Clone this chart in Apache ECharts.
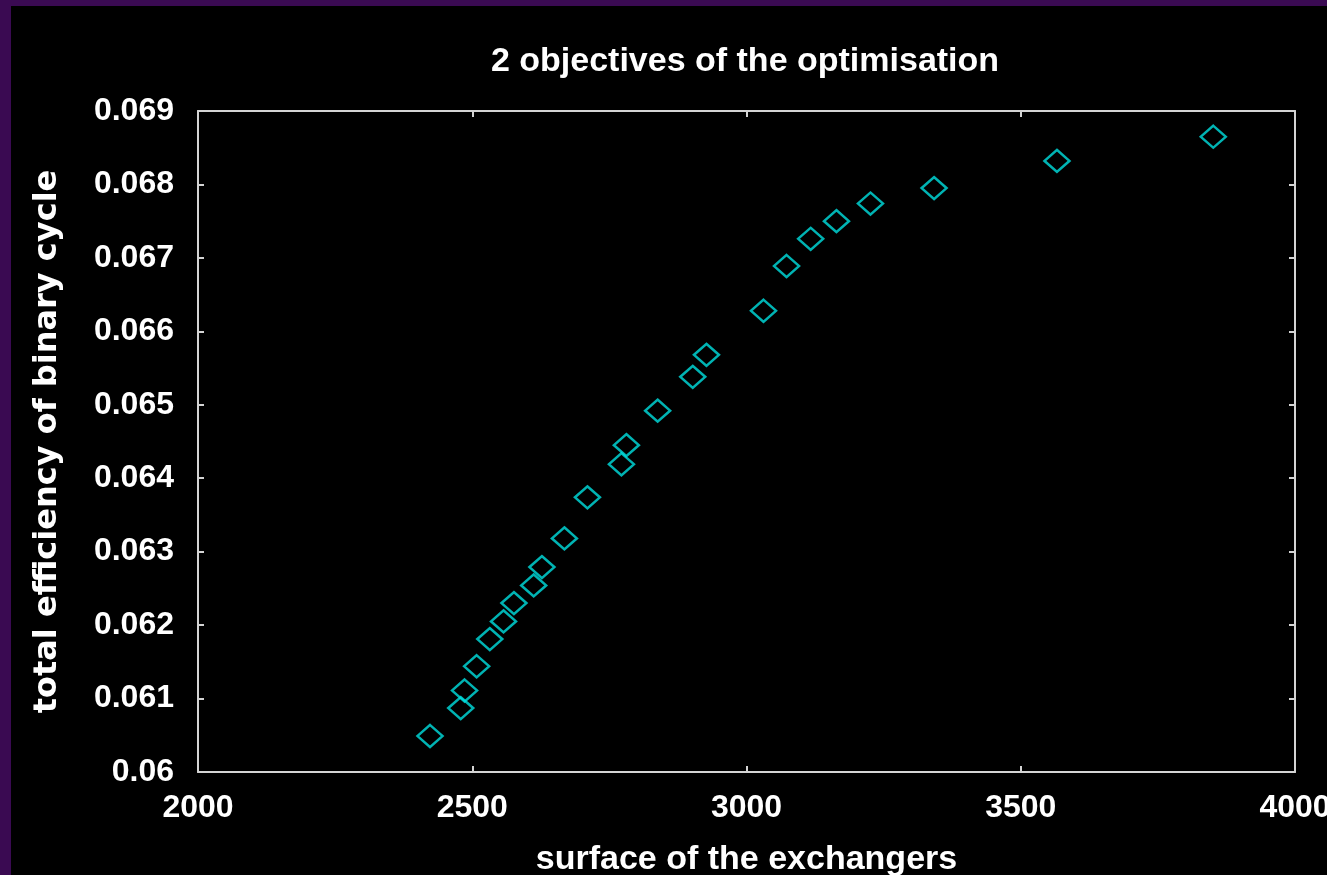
<!DOCTYPE html>
<html>
<head>
<meta charset="utf-8">
<script src="https://cdn.jsdelivr.net/npm/echarts@6/dist/echarts.min.js"></script>
<style>
html,body{margin:0;padding:0;background:#000;overflow:hidden;}
#chart{width:1327px;height:875px;}
</style>
</head>
<body>
<div id="chart"></div>
<script>
// Data
const surface = [2423, 2479, 2486, 2508, 2532, 2557, 2576, 2612, 2627, 2668, 2710, 2772, 2781, 2838, 2902, 2927, 3031, 3073, 3117, 3164, 3226, 3342, 3566, 3851];
const efficiency = [0.06049, 0.06087, 0.06111, 0.06144, 0.06181, 0.06205, 0.06230, 0.06254, 0.06279, 0.06318, 0.06374, 0.06419, 0.06445, 0.06492, 0.06538, 0.06568, 0.06628, 0.06689, 0.06726, 0.06750, 0.06774, 0.06795, 0.06832, 0.06865];
const titleText = '2 objectives of the optimisation';
const xName = 'surface of the exchangers';
const yName = 'total efficiency of binary cycle';

const points = surface.map((x, i) => [x, efficiency[i]]);

const FONT = 'Liberation Sans';
const axisColor = '#d4d4d4';
const chart = echarts.init(document.getElementById('chart'), null, {width: 1327, height: 875});

const xBase = {
  type: 'value', min: 2000, max: 4000, interval: 500,
  splitLine: {show: false},
  axisLine: {show: true, onZero: false, lineStyle: {color: axisColor, width: 2}},
  axisTick: {show: true, inside: true, length: 6, lineStyle: {color: axisColor, width: 2}}
};
const yBase = {
  type: 'value', min: 0.06, max: 0.069, interval: 0.001,
  splitLine: {show: false},
  axisLine: {show: true, onZero: false, lineStyle: {color: axisColor, width: 2}},
  axisTick: {show: true, inside: true, length: 6, lineStyle: {color: axisColor, width: 2}}
};

chart.setOption({
  backgroundColor: '#000000',
  animation: false,
  title: {
    text: titleText, left: 740, top: 40, textAlign: 'center',
    textStyle: {color: '#ffffff', fontFamily: FONT, fontWeight: 'bold', fontSize: 34}
  },
  graphic: [
    {type: 'rect', left: 0, top: 0, shape: {width: 11, height: 875}, style: {fill: '#3a0a52'}, z: 100},
    {type: 'rect', left: 0, top: 0, shape: {width: 1327, height: 6}, style: {fill: '#3a0a52'}, z: 100}
  ],
  grid: {left: 198, top: 111, width: 1097, height: 661, containLabel: false, outerBoundsMode: 'none'},
  xAxis: [
    Object.assign({}, xBase, {
      position: 'bottom',
      name: xName, nameLocation: 'middle', nameGap: 71,
      nameTextStyle: {color: '#ffffff', fontFamily: FONT, fontWeight: 'bold', fontSize: 34},
      axisLabel: {color: '#ffffff', fontFamily: FONT, fontWeight: 'bold', fontSize: 32, margin: 20,
                  formatter: v => String(v)}
    }),
    Object.assign({}, xBase, {position: 'top', axisLabel: {show: false}})
  ],
  yAxis: [
    Object.assign({}, yBase, {
      position: 'left',
      name: yName, nameLocation: 'middle', nameGap: 134, nameRotate: 90,
      nameTextStyle: {color: '#ffffff', fontFamily: 'DejaVu Sans', fontWeight: 'bold', fontSize: 32},
      axisLabel: {color: '#ffffff', fontFamily: FONT, fontWeight: 'bold', fontSize: 32, margin: 24}
    }),
    Object.assign({}, yBase, {position: 'right', axisLabel: {show: false}})
  ],
  series: [{
    type: 'scatter',
    xAxisIndex: 0, yAxisIndex: 0,
    data: points,
    symbol: 'diamond',
    symbolSize: [25, 22],
    itemStyle: {color: 'rgba(0,0,0,0)', borderColor: '#00e0e0', borderWidth: 2.5}
  }]
});
</script>
</body>
</html>
